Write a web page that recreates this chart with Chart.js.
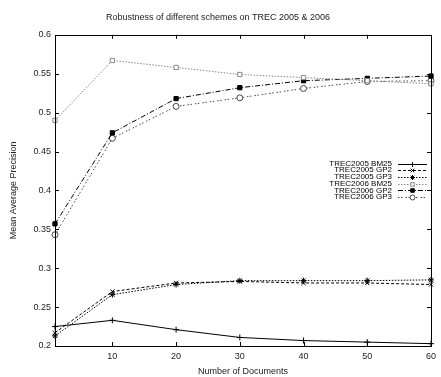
<!DOCTYPE html>
<html><head><meta charset="utf-8">
<script src="https://cdn.jsdelivr.net/npm/chart.js@4/dist/chart.umd.min.js"></script>
<style>html,body{margin:0;padding:0;background:#fff}#wrap{width:441px;height:377px}</style>
</head><body><div id="wrap"><canvas id="c" width="441" height="377"></canvas></div>
<script>
const xValues = [1, 10, 20, 30, 40, 50, 60];
const xTicks = [10, 20, 30, 40, 50, 60];
const yTicks = [0.2, 0.25, 0.3, 0.35, 0.4, 0.45, 0.5, 0.55, 0.6];
const seriesNames = ["TREC2005 BM25","TREC2005 GP2","TREC2005 GP3","TREC2006 BM25","TREC2006 GP2","TREC2006 GP3"];
const trec2005BM25 = [0.225, 0.233, 0.221, 0.211, 0.207, 0.205, 0.203];
const trec2005GP2  = [0.217, 0.270, 0.281, 0.283, 0.281, 0.281, 0.279];
const trec2005GP3  = [0.213, 0.266, 0.279, 0.284, 0.284, 0.284, 0.285];
const trec2006BM25 = [0.490, 0.567, 0.558, 0.549, 0.545, 0.541, 0.537];
const trec2006GP2  = [0.357, 0.474, 0.518, 0.532, 0.541, 0.544, 0.547];
const trec2006GP3  = [0.343, 0.467, 0.508, 0.519, 0.531, 0.540, 0.541];

const FONT = "'Liberation Sans', Arial, sans-serif";
const styles = [
  {color:'#000', dash:[], point:'cross', fill:'#000'},
  {color:'#000', dash:[3,2], point:'crossRot', fill:'#000'},
  {color:'#000', dash:[1.5,1.5], point:'star', fill:'#000'},
  {color:'#888', dash:[1.5,1.5], point:'rect', fill:'#fff'},
  {color:'#000', dash:[5,2,1,2], point:'rect', fill:'#000'},
  {color:'#444', dash:[1.5,1.5,1.5,3], point:'circle', fill:'#fff'}
];
const series = [trec2005BM25, trec2005GP2, trec2005GP3, trec2006BM25, trec2006GP2, trec2006GP3];

const datasets = series.map((vals, i) => ({
  label: seriesNames[i],
  data: vals.map((v, j) => ({x: xValues[j], y: v})),
  borderColor: styles[i].color,
  borderWidth: 1,
  borderDash: styles[i].dash,
  pointStyle: styles[i].point,
  pointRadius: 3,
  pointBorderWidth: 1,
  pointBorderColor: styles[i].color,
  pointBackgroundColor: styles[i].fill,
  tension: 0,
  fill: false,
  clip: false
}));

const framePlugin = {
  id: 'frame',
  afterDatasetsDraw(chart) {
    const ctx = chart.ctx, a = chart.chartArea;
    const xs = chart.scales.x, ys = chart.scales.y;
    ctx.save();
    ctx.strokeStyle = '#000';
    ctx.lineWidth = 1;
    ctx.setLineDash([]);
    ctx.strokeRect(Math.round(a.left)+0.5, Math.round(a.top)+0.5, Math.round(a.right-a.left), Math.round(a.bottom-a.top));
    const L = 4;
    ctx.beginPath();
    xTicks.forEach(t => {
      const px = Math.round(xs.getPixelForValue(t)) + 0.5;
      ctx.moveTo(px, a.bottom); ctx.lineTo(px, a.bottom - L);
      ctx.moveTo(px, a.top); ctx.lineTo(px, a.top + L);
    });
    yTicks.forEach(t => {
      const py = Math.round(ys.getPixelForValue(t)) + 0.5;
      ctx.moveTo(a.left, py); ctx.lineTo(a.left + L, py);
      ctx.moveTo(a.right, py); ctx.lineTo(a.right - L, py);
    });
    ctx.stroke();
    // legend
    ctx.font = '8px ' + FONT;
    ctx.textAlign = 'right';
    ctx.textBaseline = 'middle';
    const textX = 392, lx0 = 398, lx1 = 427, y0 = 163.5, dy = 6.7;
    chart.data.datasets.forEach((ds, i) => {
      const y = y0 + i * dy;
      ctx.fillStyle = '#000';
      ctx.fillText(ds.label, textX, y);
      ctx.strokeStyle = ds.borderColor;
      ctx.setLineDash(ds.borderDash);
      ctx.beginPath();
      ctx.moveTo(lx0, Math.round(y)+0.5); ctx.lineTo(lx1, Math.round(y)+0.5);
      ctx.stroke();
      ctx.setLineDash([]);
      ctx.fillStyle = ds.pointBackgroundColor;
      ctx.strokeStyle = ds.pointBorderColor;
      Chart.helpers.drawPoint(ctx, {pointStyle: ds.pointStyle, radius: 2.5, rotation: 0, borderWidth: 1}, (lx0+lx1)/2, Math.round(y)+0.5);
    });
    ctx.restore();
  }
};

new Chart(document.getElementById('c'), {
  type: 'line',
  data: { datasets },
  plugins: [framePlugin],
  options: {
    responsive: false,
    animation: false,
    devicePixelRatio: 1,
    layout: { padding: { left: 0, right: 5, top: 0, bottom: 0 } },
    plugins: {
      legend: { display: false },
      tooltip: { enabled: false },
      title: {
        display: true,
        text: 'Robustness of different schemes on TREC 2005 & 2006',
        color: '#222',
        font: { family: FONT, size: 9, weight: 'normal' },
        padding: { top: 12, bottom: 12 }
      }
    },
    scales: {
      x: {
        type: 'linear', min: 1, max: 60,
        afterBuildTicks: s => { s.ticks = xTicks.map(v => ({value: v})); },
        ticks: { color: '#222', font: { family: FONT, size: 9 }, padding: 5, maxRotation: 0 },
        grid: { display: false, drawTicks: false },
        border: { display: false },
        title: { display: true, text: 'Number of Documents', color: '#222', font: { family: FONT, size: 9 }, padding: { top: 5, bottom: 0 } },
        afterFit: s => { s.height = 31; }
      },
      y: {
        type: 'linear', min: 0.2, max: 0.6,
        afterBuildTicks: s => { s.ticks = yTicks.map(v => ({value: v})); },
        ticks: { color: '#222', font: { family: FONT, size: 9 }, padding: 4, callback: v => String(+v.toFixed(2)) },
        grid: { display: false, drawTicks: false },
        border: { display: false },
        title: { display: true, text: 'Mean Average Precision', color: '#222', font: { family: FONT, size: 9 }, padding: { top: 8, bottom: 0 } },
        afterFit: s => { s.height; s.width = 55; }
      }
    }
  }
});
</script>
</body></html>
